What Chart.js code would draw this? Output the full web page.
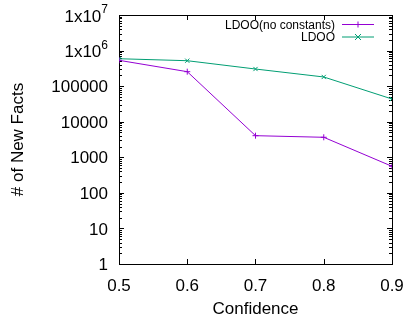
<!DOCTYPE html>
<html>
<head>
<meta charset="utf-8">
<script src="https://cdn.jsdelivr.net/npm/chart.js@4"></script>
<style>
  html, body { margin: 0; padding: 0; background: #fff; }
  #wrap { width: 410px; height: 321px; }
</style>
</head>
<body>
<div id="wrap"><canvas id="factsChart" width="410" height="321"></canvas></div>
<script>
const confidence = [0.5, 0.6, 0.7, 0.8, 0.9];
const ldooNoConstants = [532000, 255000, 4050, 3650, 557];
const ldoo = [590000, 519000, 303000, 181000, 43500];
const xTicks = [0.5, 0.6, 0.7, 0.8, 0.9];
const yTicks = [1, 10, 100, 1000, 10000, 100000, 1e6, 1e7];
const yTickLabels = ['1', '10', '100', '1000', '10000', '100000', '1x10^6', '1x10^7'];

const FONT = '"Liberation Sans", Arial, sans-serif';
const PURPLE = '#9400d3';
const GREEN = '#009e73';

// gnuplot-like frame: border, inward ticks on all sides, y labels with superscripts, key
const gnuplotFrame = {
    id: 'gnuplotFrame',
    beforeDatasetsDraw(chart) {
        const { ctx, chartArea: a, scales: { x, y } } = chart;
        ctx.save();
        ctx.strokeStyle = '#000';
        ctx.lineWidth = 1;
        ctx.beginPath();
        xTicks.forEach(v => {
            const px = Math.round(x.getPixelForValue(v)) + 0.5;
            ctx.moveTo(px, a.bottom); ctx.lineTo(px, a.bottom - 5);
            ctx.moveTo(px, a.top); ctx.lineTo(px, a.top + 5);
        });
        yTicks.forEach((v, i) => {
            const py = Math.round(y.getPixelForValue(v)) + 0.5;
            ctx.moveTo(a.left, py); ctx.lineTo(a.left + 5, py);
            ctx.moveTo(a.right, py); ctx.lineTo(a.right - 5, py);
            if (i < yTicks.length - 1) {
                for (let m = 2; m <= 9; m++) {
                    const my = Math.round(y.getPixelForValue(v * m)) + 0.5;
                    ctx.moveTo(a.left, my); ctx.lineTo(a.left + 3, my);
                    ctx.moveTo(a.right, my); ctx.lineTo(a.right - 3, my);
                }
            }
        });
        ctx.stroke();
        ctx.strokeRect(Math.round(a.left) + 0.5, Math.round(a.top) + 0.5,
            Math.round(a.right - a.left), Math.round(a.bottom - a.top));

        // y tick labels
        ctx.fillStyle = '#000';
        ctx.textAlign = 'right';
        const rx = a.left - 11;
        yTicks.forEach((v, i) => {
            const py = y.getPixelForValue(v);
            const lab = yTickLabels[i];
            if (lab.includes('^')) {
                const [base, exp] = lab.split('^');
                ctx.font = '12px ' + FONT;
                const ew = ctx.measureText(exp).width;
                ctx.textBaseline = 'alphabetic';
                ctx.fillText(exp, rx, py - 2);
                ctx.font = '17px ' + FONT;
                ctx.textBaseline = 'middle';
                ctx.fillText(base, rx - ew, py + 2);
            } else {
                ctx.font = '17px ' + FONT;
                ctx.textBaseline = 'middle';
                ctx.fillText(lab, rx, py + 1.5);
            }
        });
        ctx.restore();
    },
    afterDraw(chart) {
        const { ctx } = chart;
        ctx.save();
        ctx.font = '12px ' + FONT;
        ctx.textAlign = 'right';
        ctx.textBaseline = 'middle';
        ctx.fillStyle = '#000';
        chart.data.datasets.forEach((ds, i) => {
            const yy = 24.5 + i * 12.5;
            ctx.fillText(ds.label, 335, yy + 1);
            ctx.strokeStyle = ds.borderColor;
            ctx.lineWidth = 1;
            ctx.beginPath();
            ctx.moveTo(342, yy); ctx.lineTo(374, yy);
            ctx.stroke();
            ctx.beginPath();
            if (ds.pointStyle === 'cross') {
                ctx.moveTo(355, yy); ctx.lineTo(361, yy);
                ctx.moveTo(358, yy - 3); ctx.lineTo(358, yy + 3);
            } else {
                ctx.moveTo(355, yy - 3); ctx.lineTo(361, yy + 3);
                ctx.moveTo(355, yy + 3); ctx.lineTo(361, yy - 3);
            }
            ctx.stroke();
        });
        ctx.restore();
    }
};

new Chart(document.getElementById('factsChart').getContext('2d'), {
    type: 'line',
    data: {
        datasets: [{
            label: 'LDOO(no constants)',
            data: confidence.map((c, i) => ({ x: c, y: ldooNoConstants[i] })),
            borderColor: PURPLE,
            backgroundColor: PURPLE,
            borderWidth: 1,
            pointStyle: 'cross',
            pointRadius: 3,
            pointBorderWidth: 1,
            tension: 0
        }, {
            label: 'LDOO',
            data: confidence.map((c, i) => ({ x: c, y: ldoo[i] })),
            borderColor: GREEN,
            backgroundColor: GREEN,
            borderWidth: 1,
            pointStyle: 'crossRot',
            pointRadius: 3,
            pointBorderWidth: 1,
            tension: 0
        }]
    },
    options: {
        responsive: false,
        animation: false,
        layout: { padding: { left: 3, right: 18, top: 15, bottom: 0 } },
        plugins: {
            legend: { display: false },
            tooltip: { enabled: false }
        },
        scales: {
            x: {
                type: 'linear',
                min: 0.5,
                max: 0.9,
                grid: { display: false },
                border: { display: false },
                afterBuildTicks: s => { s.ticks = xTicks.map(v => ({ value: v })); },
                afterFit: s => { s.height = 57; },
                ticks: {
                    color: '#000',
                    padding: 4,
                    maxRotation: 0,
                    font: { family: FONT, size: 17 },
                    callback: v => v.toFixed(1)
                },
                title: {
                    display: true,
                    text: 'Confidence',
                    color: '#000',
                    font: { family: FONT, size: 17 },
                    padding: { top: 0, bottom: 1 }
                }
            },
            y: {
                type: 'logarithmic',
                min: 1,
                max: 1e7,
                grid: { display: false },
                border: { display: false },
                ticks: { display: false },
                afterFit: s => { s.width = 116; },
                title: {
                    display: true,
                    text: '# of New Facts',
                    color: '#000',
                    font: { family: FONT, size: 17 },
                    padding: { top: 5, bottom: 0 }
                }
            }
        }
    },
    plugins: [gnuplotFrame]
});
</script>
</body>
</html>
